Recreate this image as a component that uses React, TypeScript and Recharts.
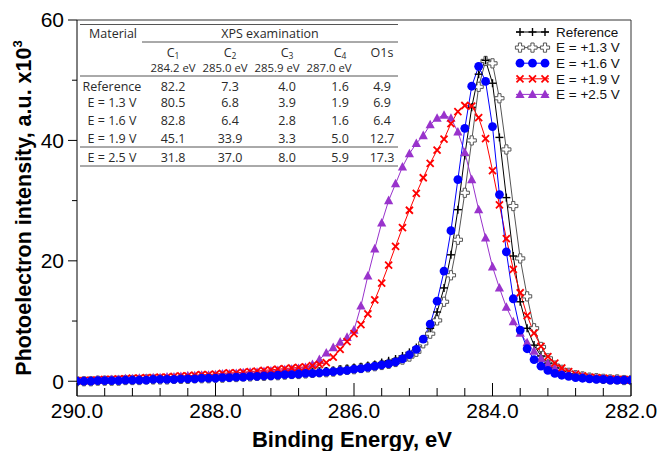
import React from 'react';
import { LineChart, Line, XAxis, YAxis, ReferenceLine } from 'recharts';

// binding energy grid, eV (290.0 -> 282.0)
const energy = [
  290.0, 289.9, 289.8, 289.7, 289.6, 289.5, 289.4, 289.3, 289.2, 289.1,
  289.0, 288.9, 288.8, 288.7, 288.6, 288.5, 288.4, 288.3, 288.2, 288.1,
  288.0, 287.9, 287.8, 287.7, 287.6, 287.5, 287.4, 287.3, 287.2, 287.1,
  287.0, 286.9, 286.8, 286.7, 286.6, 286.5, 286.4, 286.3, 286.2, 286.1,
  286.0, 285.9, 285.8, 285.7, 285.6, 285.5, 285.4, 285.3, 285.2, 285.1,
  285.0, 284.9, 284.8, 284.7, 284.6, 284.5, 284.4, 284.3, 284.2, 284.1,
  284.0, 283.9, 283.8, 283.7, 283.6, 283.5, 283.4, 283.3, 283.2, 283.1,
  283.0, 282.9, 282.8, 282.7, 282.6, 282.5, 282.4, 282.3, 282.2, 282.1,
  282.0,
];

// intensities, a.u. x10^3
const reference = [
  0.0, 0.0, 0.1, 0.1, 0.1, 0.1, 0.2, 0.2, 0.2, 0.3,
  0.3, 0.3, 0.4, 0.4, 0.4, 0.5, 0.5, 0.5, 0.6, 0.6,
  0.7, 0.7, 0.8, 0.8, 0.9, 0.9, 1.0, 1.0, 1.1, 1.2,
  1.2, 1.3, 1.4, 1.5, 1.5, 1.6, 1.7, 1.8, 2.0, 2.1,
  2.3, 2.4, 2.6, 2.8, 3.1, 3.4, 3.7, 4.2, 4.8, 5.6,
  7.0, 8.8, 11.5, 15.5, 21.0, 28.5, 37.5, 45.5, 51.0, 53.3,
  49.5, 40.5, 30.5, 20.8, 13.2, 8.8, 6.0, 4.2, 3.0, 2.2,
  1.6, 1.2, 0.9, 0.7, 0.5, 0.4, 0.3, 0.3, 0.2, 0.2,
  0.2,
];
const e13 = [
  0.0, 0.0, 0.0, 0.1, 0.1, 0.1, 0.1, 0.2, 0.2, 0.2,
  0.3, 0.3, 0.3, 0.3, 0.4, 0.4, 0.4, 0.5, 0.5, 0.5,
  0.6, 0.6, 0.7, 0.7, 0.8, 0.8, 0.9, 0.9, 1.0, 1.0,
  1.1, 1.2, 1.2, 1.3, 1.4, 1.5, 1.5, 1.6, 1.8, 1.9,
  2.0, 2.2, 2.3, 2.5, 2.7, 2.9, 3.2, 3.6, 4.1, 4.9,
  6.3, 7.9, 10.1, 13.2, 17.6, 23.5, 31.3, 40.0, 48.9, 53.2,
  52.8, 47.0, 38.5, 29.1, 20.4, 14.1, 8.8, 5.7, 3.8, 2.6,
  1.9, 1.4, 1.0, 0.8, 0.6, 0.5, 0.4, 0.3, 0.3, 0.2,
  0.2,
];
const e16 = [
  0.0, 0.0, 0.0, 0.1, 0.1, 0.1, 0.1, 0.2, 0.2, 0.2,
  0.2, 0.3, 0.3, 0.3, 0.3, 0.4, 0.4, 0.4, 0.5, 0.5,
  0.5, 0.6, 0.6, 0.7, 0.7, 0.8, 0.8, 0.9, 0.9, 1.0,
  1.1, 1.1, 1.2, 1.3, 1.3, 1.4, 1.5, 1.6, 1.7, 1.8,
  2.0, 2.1, 2.3, 2.5, 2.7, 2.9, 3.2, 3.7, 4.4, 5.3,
  7.0, 9.5, 13.3, 18.3, 25.0, 33.5, 42.0, 49.0, 52.3, 49.8,
  42.3, 31.0, 21.5, 13.7, 8.5, 5.4, 3.6, 2.5, 1.8, 1.3,
  1.0, 0.8, 0.6, 0.5, 0.4, 0.3, 0.3, 0.2, 0.2, 0.2,
  0.2,
];
const e19 = [
  0.1, 0.1, 0.2, 0.2, 0.3, 0.3, 0.4, 0.4, 0.5, 0.5,
  0.6, 0.6, 0.7, 0.7, 0.8, 0.9, 0.9, 1.0, 1.1, 1.1,
  1.2, 1.3, 1.4, 1.4, 1.5, 1.6, 1.7, 1.8, 1.9, 2.0,
  2.1, 2.2, 2.3, 2.4, 2.6, 2.8, 3.1, 4.0, 5.3, 6.6,
  7.9, 9.4, 11.2, 13.5, 16.3, 19.3, 22.4, 25.5, 28.4, 31.2,
  33.8, 36.2, 38.4, 40.2, 42.8, 44.8, 45.8, 45.7, 43.8, 40.3,
  35.0, 29.3, 23.7, 18.6, 14.7, 10.9, 8.0, 5.8, 4.1, 3.0,
  2.2, 1.6, 1.2, 0.9, 0.7, 0.6, 0.5, 0.4, 0.3, 0.3,
  0.2,
];
const e25 = [
  0.1, 0.1, 0.1, 0.2, 0.2, 0.3, 0.3, 0.4, 0.4, 0.5,
  0.5, 0.6, 0.6, 0.7, 0.7, 0.8, 0.9, 0.9, 1.0, 1.0,
  1.1, 1.2, 1.2, 1.3, 1.4, 1.5, 1.5, 1.6, 1.7, 1.8,
  1.9, 2.0, 2.1, 2.3, 2.8, 3.6, 4.7, 5.6, 6.5, 7.3,
  8.5, 12.5, 17.5, 22.0, 26.3, 30.0, 32.8, 35.6, 37.8, 39.5,
  40.8, 42.6, 43.7, 44.2, 43.7, 41.4, 38.0, 33.5, 28.5, 23.8,
  19.0, 15.5, 12.3, 9.9, 8.0, 6.4, 5.0, 3.8, 2.9, 2.2,
  1.7, 1.3, 1.0, 0.8, 0.6, 0.5, 0.4, 0.3, 0.3, 0.2,
  0.2,
];

const xTicks = [
  290, 289.6, 289.2, 288.8, 288.4, 288, 287.6, 287.2, 286.8, 286.4, 286,
  285.6, 285.2, 284.8, 284.4, 284, 283.6, 283.2, 282.8, 282.4, 282,
];
const xLabelled = [290, 288, 286, 284, 282];
const yTicks = [0, 10, 20, 30, 40, 50, 60];
const yLabelled = [0, 20, 40, 60];

// inset table
const tableCols = ['C1', 'C2', 'C3', 'C4', 'O1s'];
const tablePeaks = ['284.2 eV', '285.0 eV', '285.9 eV', '287.0 eV'];
const tableRows = ['Reference', 'E = 1.3 V', 'E = 1.6 V', 'E = 1.9 V', 'E = 2.5 V'];
const tableValues = [
  ['82.2', '7.3', '4.0', '1.6', '4.9'],
  ['80.5', '6.8', '3.9', '1.9', '6.9'],
  ['82.8', '6.4', '2.8', '1.6', '6.4'],
  ['45.1', '33.9', '3.3', '5.0', '12.7'],
  ['31.8', '37.0', '8.0', '5.9', '17.3'],
];

const rows = energy.map((e, i) => ({
  e,
  reference: reference[i],
  e13: e13[i],
  e16: e16[i],
  e19: e19[i],
  e25: e25[i],
}));

const ARIAL = '"Liberation Sans", Arial, sans-serif';
const PURPLE = '#9933CC';

function PlusMark({ cx, cy }: { cx: number; cy: number }) {
  return (
    <g>
      <line x1={cx - 4} x2={cx + 4} y1={cy} y2={cy} stroke="#000" strokeWidth={1.4} />
      <line x1={cx} x2={cx} y1={cy - 4} y2={cy + 4} stroke="#000" strokeWidth={1.4} />
    </g>
  );
}
function OpenCross({ cx, cy }: { cx: number; cy: number }) {
  const a = 1.6, b = 4.6;
  const pts = [
    [-a, -b], [a, -b], [a, -a], [b, -a], [b, a], [a, a], [a, b], [-a, b], [-a, a], [-b, a], [-b, -a], [-a, -a],
  ].map(([x, y]) => `${cx + x},${cy + y}`).join(' ');
  return <polygon points={pts} fill="#fff" stroke="#555" strokeWidth={1} />;
}
function Dot({ cx, cy }: { cx: number; cy: number }) {
  return <circle cx={cx} cy={cy} r={4.4} fill="#0000FF" />;
}
function XMark({ cx, cy }: { cx: number; cy: number }) {
  return (
    <g>
      <line x1={cx - 3.5} x2={cx + 3.5} y1={cy - 3.5} y2={cy + 3.5} stroke="#FF0000" strokeWidth={1.8} />
      <line x1={cx - 3.5} x2={cx + 3.5} y1={cy + 3.5} y2={cy - 3.5} stroke="#FF0000" strokeWidth={1.8} />
    </g>
  );
}
function Tri({ cx, cy }: { cx: number; cy: number }) {
  return <polygon points={`${cx},${cy - 5} ${cx + 4.6},${cy + 3.6} ${cx - 4.6},${cy + 3.6}`} fill={PURPLE} />;
}

const dotFn = (Shape: any) => (p: any) => {
  if (p.cx == null || p.cy == null) return <g key={p.index} />;
  return (
    <g key={p.index}>
      <Shape cx={p.cx} cy={p.cy} />
    </g>
  );
};

function XTick(props: any) {
  const { x, y, payload } = props;
  const v = payload.value as number;
  const major = xLabelled.some((t) => Math.abs(t - v) < 0.01);
  return (
    <g>
      <line x1={x} x2={x} y1={y} y2={y - (major ? 13 : 8)} stroke="#000" strokeWidth={1} />
      {major && (
        <text x={x} y={y + 22} textAnchor="middle" fontSize={21} fontFamily={ARIAL} fill="#000">
          {v.toFixed(1)}
        </text>
      )}
    </g>
  );
}

function YTick(props: any) {
  const { x, y, payload } = props;
  const v = payload.value as number;
  const major = yLabelled.includes(v);
  return (
    <g>
      <line x1={x - (major ? 9 : 5)} x2={x} y1={y} y2={y} stroke="#000" strokeWidth={1} />
      {major && (
        <text x={x - 13} y={y} dy="0.35em" textAnchor="end" fontSize={21} fontFamily={ARIAL} fill="#000">
          {v}
        </text>
      )}
    </g>
  );
}

const legendItems = [
  { label: 'Reference', color: '#000', Shape: PlusMark },
  { label: 'E = +1.3 V', color: '#555', Shape: OpenCross },
  { label: 'E = +1.6 V', color: '#0000FF', Shape: Dot },
  { label: 'E = +1.9 V', color: '#FF0000', Shape: XMark },
  { label: 'E = +2.5 V', color: PURPLE, Shape: Tri },
];

function Overlay() {
  const colX = [173, 230, 287, 340, 382];
  const peakX = [173, 225, 277, 329];
  const rowY = [86, 102.5, 120, 138, 157];
  const tf = '"Open Sans", "Noto Sans", sans-serif';
  const tc = '#2a2a2a';
  return (
    <svg width={657} height={451} style={{ position: 'absolute', left: 0, top: 0, pointerEvents: 'none' }}>
      {/* table rules */}
      <g stroke="#555" strokeWidth={1}>
        <line x1={80} x2={398} y1={24.5} y2={24.5} />
        <line x1={142} x2={398} y1={42} y2={42} />
        <line x1={80} x2={398} y1={76} y2={76} />
        <line x1={80} x2={398} y1={147} y2={147} />
        <line x1={80} x2={398} y1={166} y2={166} />
      </g>
      <g fontFamily={tf} fontSize={12.5} fill={tc} textAnchor="middle">
        <text x={113} y={37.5}>Material</text>
        <text x={270} y={37.5}>XPS examination</text>
        {tableCols.map((c, i) =>
          c.startsWith('C') ? (
            <text key={c} x={colX[i]} y={56.5}>
              C<tspan fontSize={8.5} dy={2}>{c.slice(1)}</tspan>
            </text>
          ) : (
            <text key={c} x={colX[i]} y={56.5}>{c}</text>
          )
        )}
        {tablePeaks.map((p, i) => (
          <text key={'p' + i} x={peakX[i]} y={72} fontSize={11.4}>{p}</text>
        ))}
        {tableRows.map((r, j) => (
          <g key={r}>
            <text x={112} y={rowY[j] + 4.5}>{r}</text>
            {tableValues[j].map((v, i) => (
              <text key={i} x={colX[i]} y={rowY[j] + 4.5}>{v}</text>
            ))}
          </g>
        ))}
      </g>

      {/* legend */}
      {legendItems.map((it, k) => {
        const y = 32 + k * 15.6;
        return (
          <g key={it.label}>
            <line x1={516} x2={549} y1={y} y2={y} stroke={it.color} strokeWidth={1} />
            {[520, 532.5, 545].map((mx) => (
              <it.Shape key={mx} cx={mx} cy={y} />
            ))}
            <text x={556} y={y} dy="0.36em" fontSize={13.5} fontFamily={ARIAL} fill="#111">
              {it.label}
            </text>
          </g>
        );
      })}

      {/* axis titles */}
      <text x={352} y={447} textAnchor="middle" fontSize={22} fontWeight="bold" fontFamily={ARIAL} fill="#000">
        Binding Energy, eV
      </text>
      <text
        transform="translate(31,208) rotate(-90)"
        textAnchor="middle"
        fontSize={21.5}
        fontWeight="bold"
        fontFamily={ARIAL}
        fill="#000"
      >
        Photoelectron intensity, a.u. x10<tspan fontSize={13} dy={-9}>3</tspan>
      </text>
    </svg>
  );
}

export default function App() {
  return (
    <div style={{ position: 'relative', width: 657, height: 451, background: '#fff', overflow: 'hidden' }}>
      <style>{'html,body{margin:0;padding:0;overflow:hidden;}'}</style>
      <LineChart width={657} height={451} data={rows} margin={{ top: 20, right: 26, bottom: 0, left: 0 }}>
        <XAxis
          dataKey="e"
          type="number"
          domain={[282, 290]}
          reversed
          ticks={xTicks}
          interval={0}
          height={55}
          tickSize={0}
          tickMargin={0}
          tickLine={false}
          stroke="#000"
          tick={<XTick />}
          allowDataOverflow
        />
        <YAxis
          type="number"
          domain={[-2.45, 60]}
          ticks={yTicks}
          interval={0}
          width={77}
          tickSize={0}
          tickMargin={0}
          tickLine={false}
          stroke="#000"
          tick={<YTick />}
          allowDataOverflow
        />
        <ReferenceLine y={60} stroke="#333" strokeWidth={1} ifOverflow="extendDomain" />
        <ReferenceLine x={282} stroke="#333" strokeWidth={1} />
        <Line type="linear" dataKey="e13" stroke="#555" strokeWidth={1} dot={dotFn(OpenCross)} isAnimationActive={false} />
        <Line type="linear" dataKey="reference" stroke="#000" strokeWidth={1} dot={dotFn(PlusMark)} isAnimationActive={false} />
        <Line type="linear" dataKey="e25" stroke={PURPLE} strokeWidth={1} dot={dotFn(Tri)} isAnimationActive={false} />
        <Line type="linear" dataKey="e19" stroke="#FF0000" strokeWidth={1} dot={dotFn(XMark)} isAnimationActive={false} />
        <Line type="linear" dataKey="e16" stroke="#0000FF" strokeWidth={1} dot={dotFn(Dot)} isAnimationActive={false} />
      </LineChart>
      <Overlay />
    </div>
  );
}
